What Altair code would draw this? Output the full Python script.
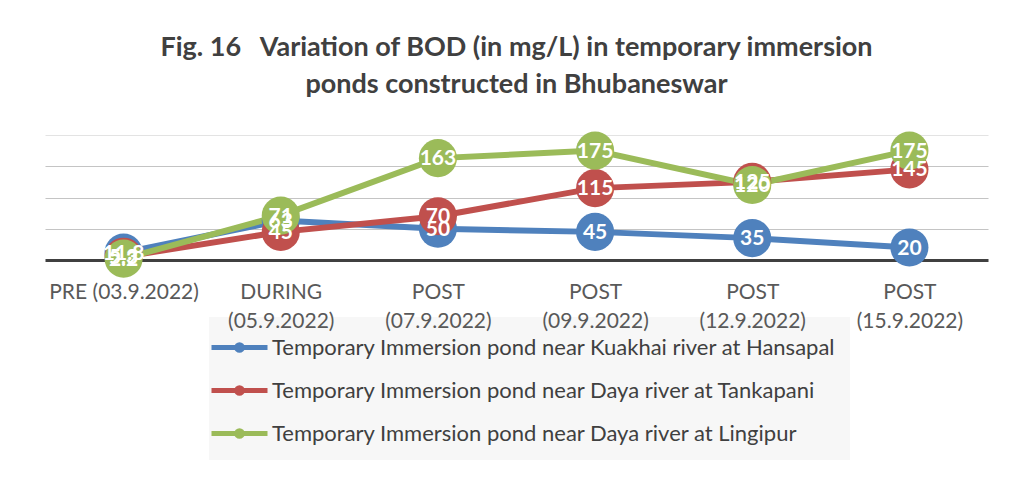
import altair as alt
import pandas as pd

categories = ["PRE (03.9.2022)", "DURING (05.9.2022)", "POST (07.9.2022)",
              "POST (09.9.2022)", "POST (12.9.2022)", "POST (15.9.2022)"]
series_names = [
    "Temporary Immersion pond near Kuakhai river at Hansapal",
    "Temporary Immersion pond near Daya river at Tankapani",
    "Temporary Immersion pond near Daya river at Lingipur",
]
hansapal = [11.8, 63, 50, 45, 35, 20]
tankapani = [5.3, 45, 70, 115, 125, 145]
lingipur = [2.2, 71, 163, 175, 120, 175]
colors = ["#4f81bd", "#c0504d", "#9bbb59"]
grid_values = [0, 50, 100, 150, 200]

rows = []
for name, vals in zip(series_names, [hansapal, tankapani, lingipur]):
    for c, v in zip(categories, vals):
        rows.append({"stage": c, "series": name, "bod": v})
df = pd.DataFrame(rows)

FONT = "Lato"

x_enc = alt.X("stage:N", sort=categories,
              scale=alt.Scale(type="point", padding=0.5),
              axis=alt.Axis(title=None, labelAngle=0, ticks=False, domain=False,
                            zindex=2,
                            labelFont=FONT, labelFontSize=21, labelColor="#595959",
                            labelPadding=21, labelLineHeight=29,
                            labelExpr="datum.label == 'PRE (03.9.2022)' ? datum.label : split(datum.label, ' ')"))
y_enc = alt.Y("bod:Q", scale=alt.Scale(domain=[0, 200], nice=False),
              axis=alt.Axis(title=None, labels=False, ticks=False, domain=False,
                            values=grid_values, grid=True, zindex=0,
                            gridWidth={"condition": {"test": "datum.value === 0", "value": 3},
                                       "value": 1.2},
                            gridColor={"condition": [
                                {"test": "datum.value === 0", "value": "#404040"},
                                {"test": "datum.value === 200", "value": "#e3e3e3"}],
                                "value": "#c4c4c4"}))
color_enc = alt.Color("series:N", sort=series_names,
                      scale=alt.Scale(domain=series_names, range=colors),
                      legend=alt.Legend(title=None, orient="none", legendX=164, legendY=182,
                                        direction="vertical", zindex=0,
                                        symbolType="M-2,0H2M-0.2,0a0.2,0.2 0 1,0 0.4,0a0.2,0.2 0 1,0 -0.4,0",
                                        symbolSize=784, symbolStrokeWidth=5,
                                        labelOffset=16, labelFont=FONT, labelFontSize=22,
                                        labelColor="#404040", labelLimit=800,
                                        rowPadding=13, padding=14, fillColor="#f7f7f7"))

base = alt.Chart(df)
lines = base.mark_line(strokeWidth=6).encode(x=x_enc, y=y_enc, color=color_enc)
dots = base.mark_circle(size=1450, opacity=1).encode(x=x_enc, y=y_enc, color=color_enc)
labels = base.mark_text(color="white", font=FONT, fontWeight="bold", fontSize=21,
                        baseline="middle", align="center", dy=1).encode(
    x=x_enc, y=y_enc, text=alt.Text("bod:Q"))

NBSP = "\u00a0"
chart = alt.layer(lines, dots, labels).properties(
    width=943, height=125,
    title=alt.TitleParams(
        text=["Fig. 16" + NBSP * 3 + "Variation of BOD (in mg/L) in temporary immersion",
              "ponds constructed in Bhubaneswar"],
        font=FONT, fontSize=27, fontWeight="bold", color="#404040",
        anchor="middle", lineHeight=37, offset=33),
    autosize=alt.AutoSizeParams(type="none"),
    padding={"left": 37, "top": 127, "right": 14, "bottom": 200},
).configure_view(stroke=None)

chart.save("out.html", embed_options={"renderer": "svg", "actions": False})
